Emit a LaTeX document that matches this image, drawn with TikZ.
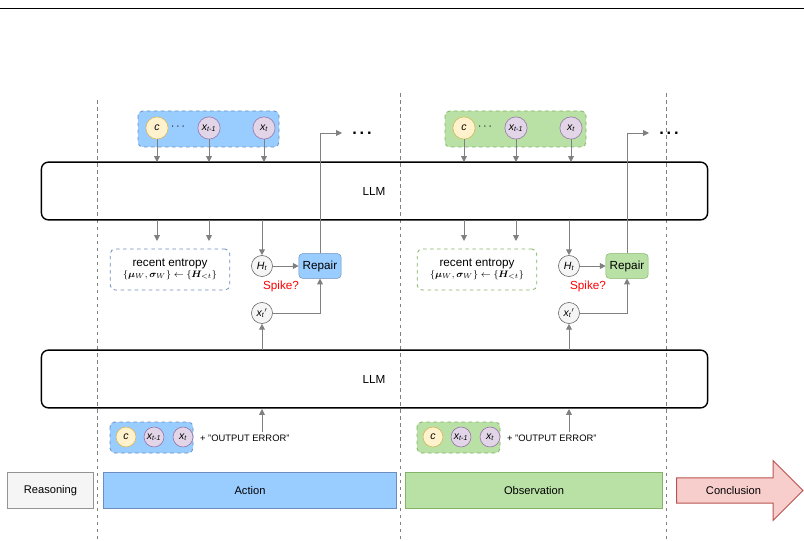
\documentclass[tikz,border=0pt]{standalone}
\usepackage{amsmath,bm}
\usepackage{fontspec}
\setmainfont{Liberation Sans}
\usetikzlibrary{arrows.meta,shapes.arrows}
\definecolor{bfill}{HTML}{99CCFF}\definecolor{bdraw}{HTML}{6C8EBF}
\definecolor{gfill}{HTML}{B9E0A5}\definecolor{gdraw}{HTML}{82B366}
\definecolor{yfill}{HTML}{FFF2CC}\definecolor{ydraw}{HTML}{D6B656}
\definecolor{pfill}{HTML}{E1D5E7}\definecolor{pdraw}{HTML}{9673A6}
\definecolor{rfill}{HTML}{F8CECC}\definecolor{rdraw}{HTML}{B85450}
\definecolor{kfill}{HTML}{F5F5F5}\definecolor{kdraw}{HTML}{666666}
\definecolor{arr}{HTML}{808080}
\begin{document}
\begin{tikzpicture}[x=0.03cm,y=-0.03cm,font=\fontsize{9}{10}\selectfont,
 tok/.style={circle,draw,line width=0.5pt,minimum size=19pt,inner sep=0pt,font=\fontsize{9}{10}\selectfont\itshape},
 yc/.style={tok,fill=yfill,draw=ydraw},
 pc/.style={tok,fill=pfill,draw=pdraw},
 wc/.style={tok,fill=kfill,draw=kdraw,minimum size=18pt},
 a/.style={draw=arr,line width=0.8pt,-{Triangle[length=5pt,width=5pt]}},
 llm/.style={draw,line width=1.2pt,rounded corners=6pt},
 grp/.style={dashed,rounded corners=4pt,line width=0.7pt},
 vdash/.style={dashed,draw=arr,line width=0.8pt},
 rep/.style={draw,rounded corners=3pt,minimum width=36pt,minimum height=21pt,inner sep=1pt,font=\fontsize{10}{11}\selectfont},
 bar/.style={draw,line width=0.8pt,minimum height=30pt,inner sep=0pt,font=\fontsize{9.5}{11}\selectfont}]
\useasboundingbox (0,0) rectangle (804,541);
\draw[line width=0.5pt] (0,8) -- (804,8);
\draw[vdash] (97,100) -- (97,541);
\draw[vdash] (400,93) -- (400,541);
\draw[vdash] (666,93) -- (666,541);
% LLM boxes
\node[llm,minimum width=669*0.85pt,minimum height=58*0.85pt] (L1) at (374.5,191) {};
\node[font=\fontsize{10}{11}\selectfont] (L1t) at (374,191) {LLM};
\node[llm,minimum width=669*0.85pt,minimum height=58*0.85pt] (L2) at (374.5,379) {};
\node[font=\fontsize{10}{11}\selectfont] (L2t) at (374,379) {LLM};
% two columns
\foreach \dx/\f/\d/\s in {0/bfill/bdraw/A,307/gfill/gdraw/B}{
 \begin{scope}[xshift=\dx*0.03cm]
 \draw[grp,fill=\f,draw=\d] (138,111) rectangle (279,147);
 \node[yc] (c\s) at (157,128) {c};
 \node[font=\bfseries] (dd\s) at (179,127) {$\cdots$};
 \node[pc] (xm\s) at (209,128) {x\textsubscript{t-1}};
 \node[pc] (x\s) at (264,128) {x\textsubscript{t}};
 \coordinate (a1\s) at (157,162); \coordinate (a2\s) at (209,162); \coordinate (a3\s) at (264,162);
 \draw[a] (c\s) -- (a1\s);
 \draw[a] (xm\s) -- (a2\s);
 \draw[a] (x\s) -- (a3\s);
 \node[grp,draw=\d,minimum width=120*0.85pt,minimum height=41*0.85pt,inner sep=1pt,align=center] (E\s) at (170,269.5)
   {\fontsize{10}{12}\selectfont recent entropy\\[-1pt] \fontsize{8}{9}\selectfont$\{\bm{\mu}_{W},\bm{\sigma}_{W}\}\leftarrow\{\bm{H}_{<t}\}$};
 \coordinate (b1\s) at (157,220); \coordinate (b2\s) at (209,220); \coordinate (b3\s) at (262,220);
 \draw[a] (b1\s) -- (157,241);
 \draw[a] (b2\s) -- (209,241);
 \node[wc] (H\s) at (262,266) {H\textsubscript{t}};
 \draw[a] (b3\s) -- (H\s.north);
 \node[rep,fill=\f,draw=\d] (R\s) at (320,266) {Repair};
 \draw[a] (H\s) -- (R\s);
 \node[text=red,font=\fontsize{10}{11}\selectfont] (S\s) at (281,286) {Spike?};
 \node[wc] (xp\s) at (262,313) {x\textsubscript{t}\textsuperscript{$\prime$}};
 \draw[a] (xp\s.east) -- (320,313) -- (R\s.south);
 \coordinate (o\s) at (342,133);
 \draw[a] (R\s.north) -- (320,133) -- (o\s);
 \node[font=\bfseries\fontsize{14}{14}\selectfont] (el\s) at (362,133) {.\,.\,.};
 \coordinate (l2\s) at (262,350);
 \draw[a] (l2\s) -- (xp\s.south);
 \coordinate (in\s) at (262,432);
 \draw[a] (in\s) -- (262,409);
 \end{scope}}
\foreach \dx/\f/\d/\s in {0/bfill/bdraw/A,307/gfill/gdraw/B}{
 \begin{scope}[xshift=\dx*0.03cm]
 \draw[grp,fill=\f,draw=\d] (110,422) rectangle (193,453);
 \node[yc,minimum size=17pt] (bc\s) at (126,437) {c};
 \node[pc,minimum size=17pt] (bxm\s) at (154,437) {x\textsubscript{t-1}};
 \node[pc,minimum size=17pt] (bx\s) at (183,437) {x\textsubscript{t}};
 \node[anchor=west,font=\fontsize{8}{9}\selectfont] (oe\s) at (196,438) {+ "OUTPUT ERROR"};
 \end{scope}}
% phase bar
\node[bar,fill=kfill,draw=kdraw!70,minimum width=87*0.85pt] (re) at (50.5,490.5) {Reasoning};
\node[bar,fill=bfill,draw=bdraw,minimum width=294*0.85pt] (ac) at (250,490.5) {Action};
\node[bar,fill=gfill,draw=gdraw,minimum width=258*0.85pt] (ob) at (534,490.5) {Observation};
\node[single arrow,draw=rdraw,fill=rfill,line width=0.8pt,minimum height=127*0.85pt,minimum width=60*0.85pt,
  single arrow head extend=8pt,single arrow tip angle=90,inner sep=2pt,font=\fontsize{9.5}{11}\selectfont] (co) at (733.5,490.5) {Conclusion\hspace{18pt}};
\end{tikzpicture}
\end{document}
